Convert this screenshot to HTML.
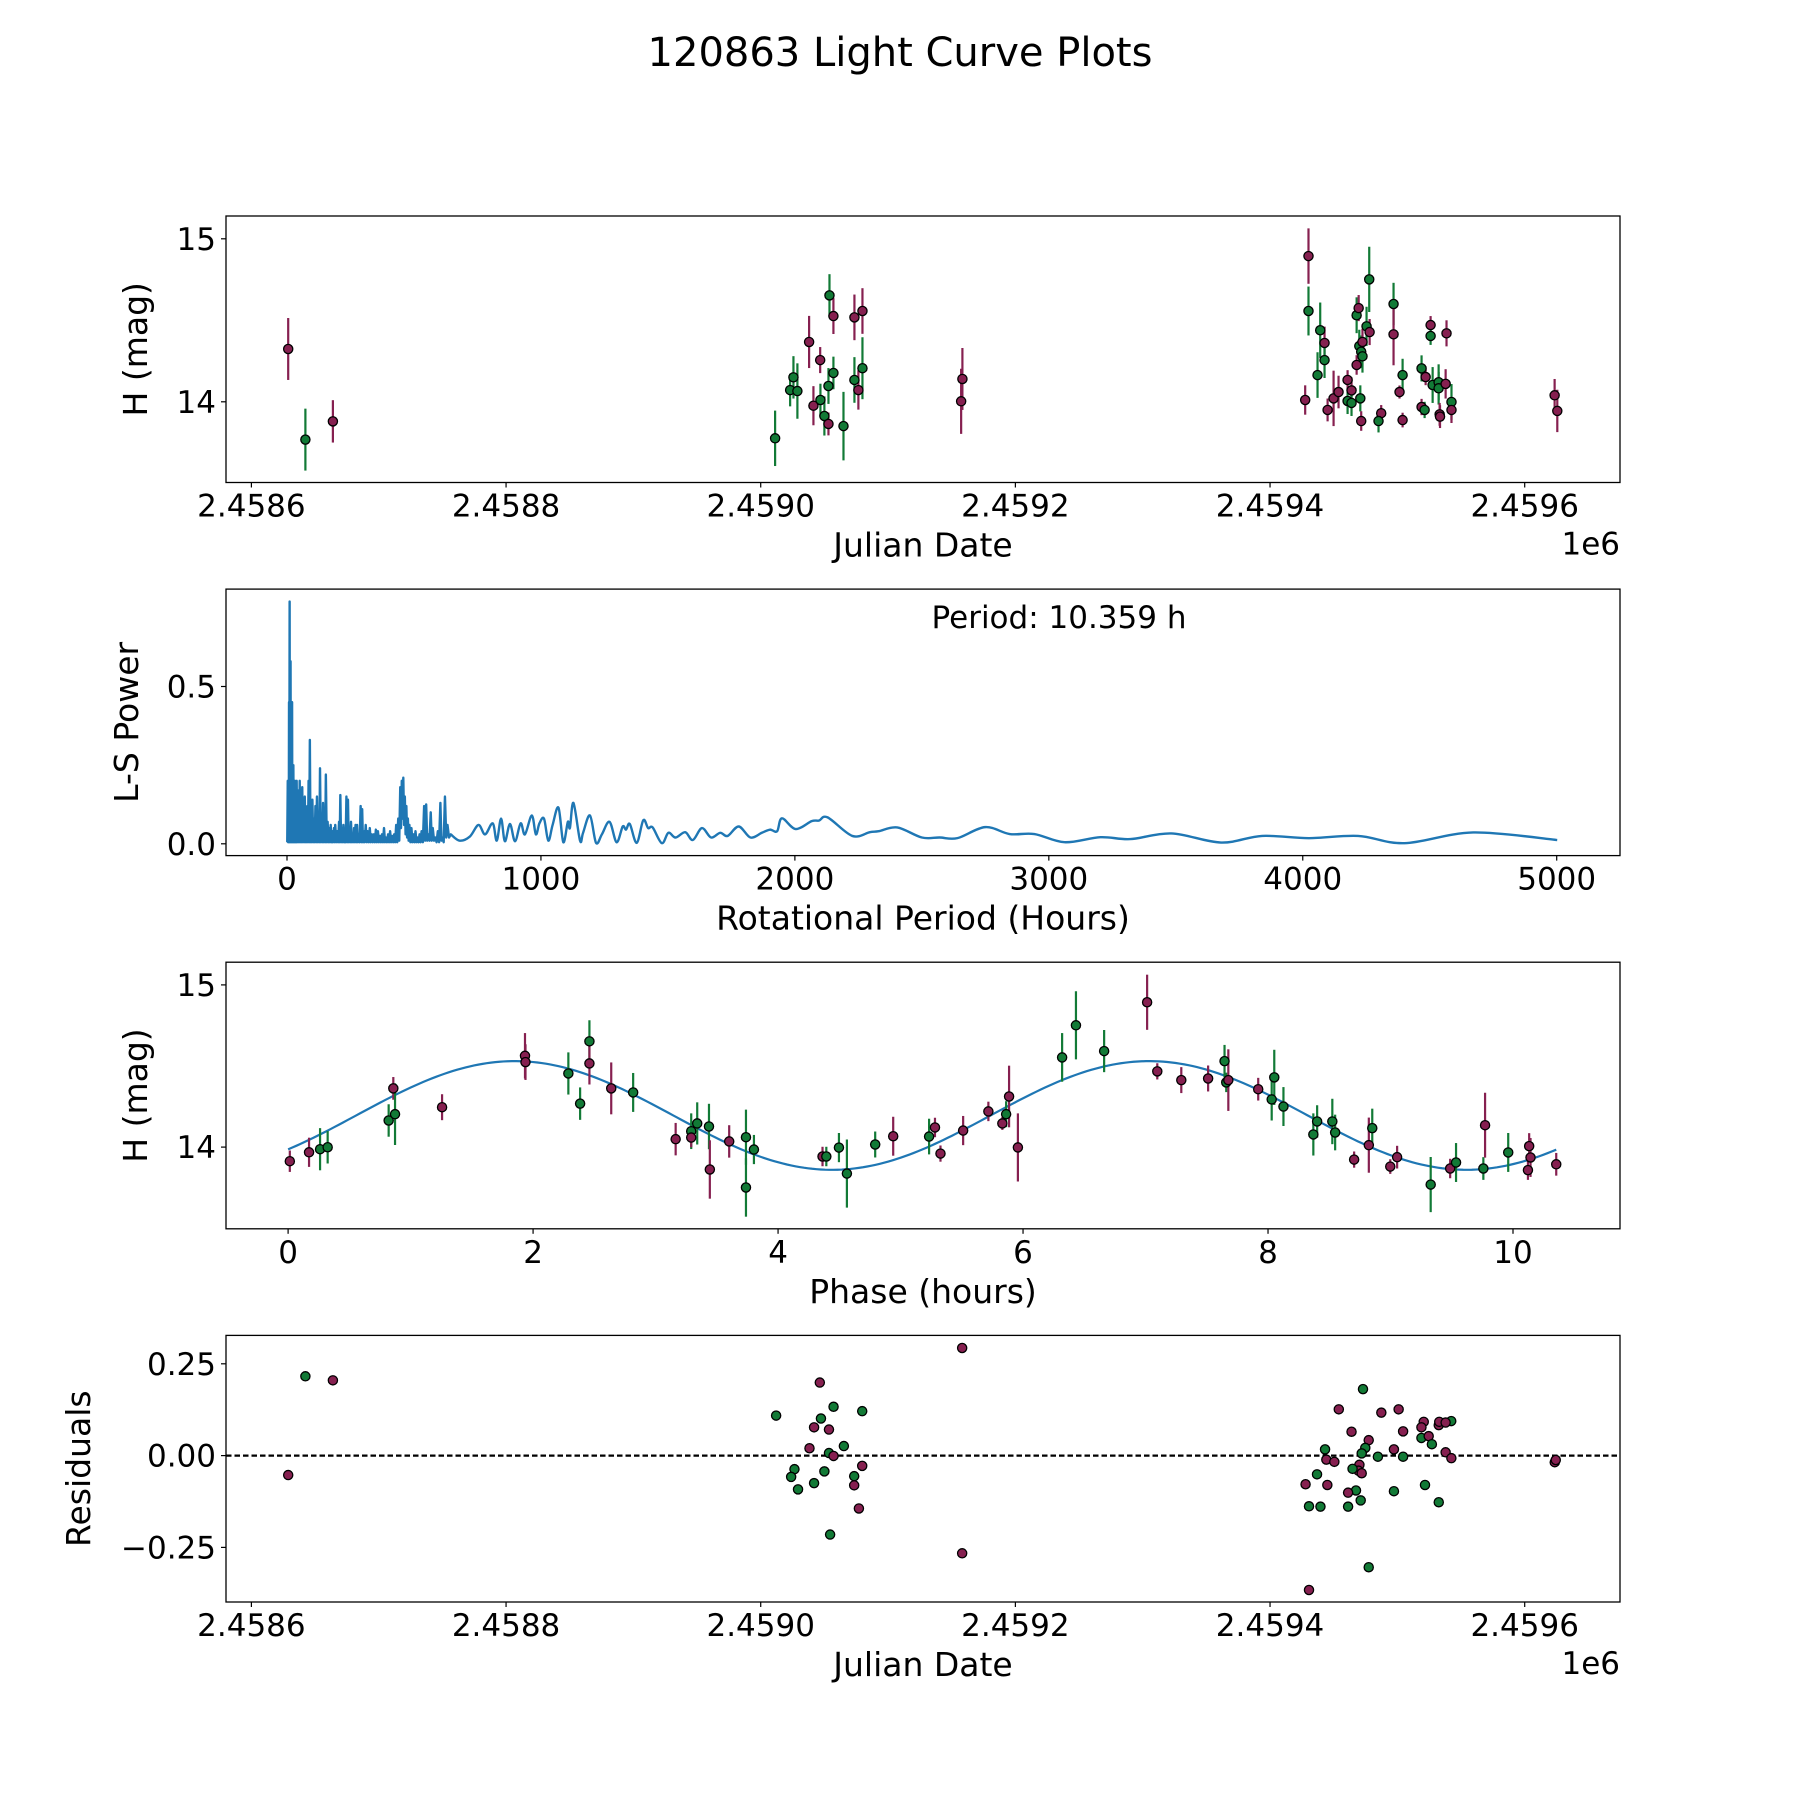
<!DOCTYPE html>
<html>
<head>
<meta charset="utf-8">
<style>
html,body{margin:0;padding:0;background:#fff;}
svg{display:block;}
text{font-family:"DejaVu Sans","Liberation Sans",sans-serif;fill:#000;}
</style>
</head>
<body>
<svg id="fig" width="1800" height="1800" viewBox="0 0 1800 1800" xmlns="http://www.w3.org/2000/svg">
<rect x="0" y="0" width="1800" height="1800" fill="#fff"/>
<text x="900" y="66" font-size="40" text-anchor="middle">120863 Light Curve Plots</text>
<g id="p1"></g>
<g id="p2"></g>
<g id="p3"></g>
<g id="p4"></g>
</svg>
<script>
// ---------- Panel 1: light curve ----------
const lcJD = [2458628.9,2458642.4,2458664.0,2459011.3,2459023.1,2459025.7,2459028.8,2459038.0,2459041.4,2459046.7,2459046.9,2459050.0,2459053.2,2459053.2,2459054.0,2459057.1,2459057.1,2459065.0,2459073.6,2459073.6,2459076.7,2459079.9,2459079.9,2459157.4,2459158.4,
2459430.2,2459430.2,2459427.6,2459437.3,2459439.4,2459442.8,2459442.8,2459445.2,2459449.9,2459453.8,2459460.9,2459460.9,2459464.0,2459464.0,2459468.0,2459468.0,2459469.6,2459470.9,2459470.1,2459471.6,2459472.6,2459472.6,2459471.6,2459475.8,2459478.2,2459477.9,2459487.3,2459485.2,2459497.0,2459497.0,2459501.7,2459504.1,2459504.1,2459519.0,2459522.2,2459519.0,2459521.4,2459526.1,2459526.1,2459527.7,2459532.4,2459532.4,2459537.9,2459533.2,2459533.5,2459538.6,2459542.5,2459542.5,2459623.5,2459625.6];
const lcMag = [14.324,13.768,13.88,13.776,14.072,14.150,14.066,14.367,13.976,14.256,14.011,13.913,13.864,14.097,14.653,14.526,14.177,13.851,14.518,14.134,14.072,14.557,14.206,14.003,14.140,
14.894,14.557,14.011,14.164,14.439,14.361,14.256,13.950,14.021,14.06,14.134,14.005,14.07,13.993,14.226,14.531,14.575,14.021,14.342,14.307,14.279,14.367,13.882,14.463,14.428,14.751,13.93,13.882,14.6,14.414,14.06,14.164,13.888,14.205,14.152,13.968,13.95,14.471,14.404,14.103,14.12,14.083,14.11,13.923,13.909,14.42,13.999,13.95,14.04,13.944];
const lcErr = [0.19,0.19,0.13,0.17,0.10,0.13,0.17,0.16,0.12,0.08,0.10,0.12,0.07,0.11,0.13,0.11,0.10,0.21,0.14,0.14,0.12,0.14,0.19,0.20,0.19,
0.17,0.15,0.09,0.14,0.17,0.10,0.11,0.07,0.17,0.10,0.06,0.08,0.08,0.08,0.06,0.11,0.08,0.08,0.10,0.10,0.10,0.08,0.06,0.12,0.08,0.20,0.05,0.07,0.13,0.19,0.04,0.10,0.045,0.08,0.05,0.05,0.05,0.055,0.055,0.11,0.11,0.10,0.09,0.07,0.07,0.08,0.11,0.08,0.10,0.13];
const lcBand = ("mgmggggmmmggmggmggmgmmgmm"+"mgmggmgmmm"+"mgmgmgmggg"+"gmmgmgmggm"+"mgmgmmgmgg"+"ggmmmmgmmm").split("");

// ---------- Panel 2: periodogram ----------
const lsPeriods = [1,3,4.5,6,7,8,9.2,10.36,11.2,12,13,14,15,16,17,18,19,20,21,22,23.5,25,26.5,28,29.5,31,33,35,36.5,38,40,42,44,46,48,50,52.5,55,57.5,60,62.5,65,67.5,70,72.5,75,77.5,80,82.5,85,87.5,90,92.5,95,97.5,100,103,106,109,112,115,118,121.5,125,127.5,130,133,136,139,142,145,148,150.5,153,156.5,160,163,166,169,172,175,178,181.5,185,187.5,190,194,198,201.5,205,207.5,210,213,216,219,222,225,228,231,234,237,240,243,246,249,252,255,258,261,264,267,270,273,276,279,282,286,290,293,296,299,302,306,310,314,318,322,326,330,334,338,342,346,350,354,358,362,366,370,374,378,382,386,390,394,398,402,406,410,414,418,422,426,430,434,438,442,446,449,452,455,458,461,464,467,470,473,476,479,482,486,490,494,498,502,506,510,514,518,522,526,530,535,540,544,548,552,556,561,566,570,574,579,584,589,594,599,604,608,612,617,622,627,632,638,645];
const lsPowers = [0.005,0.2,0.005,0.1,0.005,0.45,0.005,0.77,0.005,0.3,0.005,0.58,0.005,0.2,0.005,0.35,0.005,0.45,0.005,0.15,0.005,0.25,0.005,0.1,0.005,0.2,0.005,0.12,0.005,0.2,0.005,0.17,0.005,0.08,0.005,0.2,0.005,0.12,0.005,0.18,0.005,0.09,0.005,0.15,0.005,0.07,0.005,0.12,0.005,0.2,0.005,0.33,0.005,0.1,0.005,0.14,0.005,0.08,0.005,0.12,0.005,0.15,0.005,0.1,0.005,0.24,0.005,0.08,0.005,0.13,0.005,0.06,0.005,0.22,0.005,0.07,0.005,0.05,0.005,0.06,0.005,0.04,0.005,0.05,0.005,0.06,0.005,0.04,0.005,0.07,0.005,0.155,0.005,0.05,0.005,0.06,0.005,0.04,0.005,0.15,0.005,0.14,0.005,0.05,0.005,0.07,0.005,0.03,0.005,0.05,0.005,0.06,0.005,0.06,0.005,0.03,0.005,0.12,0.005,0.11,0.005,0.04,0.005,0.06,0.005,0.04,0.005,0.05,0.005,0.03,0.005,0.03,0.005,0.045,0.005,0.04,0.005,0.025,0.005,0.03,0.005,0.05,0.005,0.02,0.005,0.03,0.005,0.04,0.005,0.025,0.005,0.03,0.005,0.06,0.005,0.08,0.01,0.18,0.05,0.2,0.08,0.21,0.06,0.15,0.03,0.12,0.02,0.08,0.01,0.06,0.005,0.05,0.005,0.03,0.005,0.04,0.005,0.02,0.005,0.03,0.005,0.04,0.005,0.12,0.01,0.125,0.01,0.03,0.01,0.1,0.01,0.05,0.01,0.02,0.005,0.04,0.005,0.13,0.01,0.02,0.005,0.15,0.02,0.06,0.02,0.03];
const lsSmoothPeriods = [680,720,754,780,810,826,843,858,878,898,920,937,964,980,994,1012,1029,1046,1069,1088,1106,1114,1128,1154,1166,1193,1217,1240,1270,1298,1322,1335,1350,1377,1403,1422,1440,1476,1502,1530,1568,1598,1634,1670,1706,1735,1779,1825,1870,1902,1930,1949,2003,2066,2095,2129,2226,2295,2330,2403,2500,2570,2640,2749,2846,2943,3062,3203,3321,3483,3678,3840,4024,4218,4401,4671,5002];
const lsSmoothPowers = [0.01,0.023,0.06,0.03,0.065,0.01,0.08,0.008,0.063,0.008,0.065,0.03,0.09,0.03,0.065,0.08,0.01,0.06,0.115,0.005,0.07,0.05,0.13,0.01,0.035,0.09,0.003,0.03,0.07,0.005,0.055,0.045,0.063,0.003,0.075,0.05,0.052,0.002,0.035,0.02,0.037,0.012,0.05,0.02,0.035,0.025,0.055,0.02,0.035,0.045,0.04,0.081,0.047,0.072,0.074,0.084,0.025,0.037,0.04,0.052,0.02,0.02,0.018,0.053,0.031,0.031,0.005,0.021,0.015,0.033,0.004,0.025,0.018,0.025,0.002,0.036,0.012];
const bestPeriodLabel = ["Period: 10.359 h"];

// ---------- Panel 3: phased curve ----------
const phPhase = [0.014,0.171,0.261,0.323,0.859,0.821,0.873,1.257,1.934,1.938,2.288,2.384,2.46,2.46,2.638,2.817,3.164,3.291,3.291,3.34,3.436,3.443,3.601,3.738,3.738,3.803,4.363,4.394,4.497,4.562,4.793,4.94,5.233,
5.281,5.326,5.511,5.717,5.831,5.862,5.886,5.958,6.319,6.432,6.662,7.013,7.096,7.292,7.511,7.645,7.659,7.676,7.92,8.03,8.051,8.126,8.37,8.401,8.525,8.548,8.703,8.823,8.851,8.998,9.054,9.328,9.487,9.535,9.758,9.772,9.961,10.132,10.143,10.122,10.353];
const phMag = [13.913,13.968,13.987,13.999,14.362,14.164,14.203,14.246,14.563,14.524,14.454,14.268,14.652,14.516,14.362,14.337,14.049,14.098,14.059,14.146,14.127,13.862,14.035,14.061,13.751,13.985,13.942,13.942,13.997,13.837,14.016,14.067,14.065,
14.121,13.96,14.102,14.22,14.146,14.203,14.312,13.998,14.553,14.751,14.592,14.893,14.467,14.413,14.423,14.53,14.399,14.413,14.357,14.294,14.43,14.25,14.078,14.158,14.158,14.09,13.923,14.012,14.117,13.88,13.938,13.769,13.868,13.905,13.868,14.135,13.967,14.006,13.936,13.858,13.894];
const phErr = [0.066,0.09,0.13,0.10,0.07,0.10,0.19,0.08,0.14,0.11,0.13,0.10,0.13,0.13,0.16,0.12,0.10,0.11,0.06,0.13,0.14,0.18,0.10,0.17,0.18,0.09,0.06,0.06,0.09,0.21,0.08,0.12,0.11,
0.06,0.05,0.09,0.06,0.04,0.08,0.19,0.21,0.15,0.21,0.13,0.17,0.05,0.08,0.08,0.10,0.06,0.19,0.07,0.13,0.17,0.12,0.13,0.10,0.14,0.11,0.05,0.17,0.12,0.045,0.07,0.17,0.06,0.12,0.07,0.20,0.12,0.08,0.12,0.06,0.07];
const phBand = ("mmggmggmmm"+"gggmmgmgmg"+"gmmgggmggg"+"gmg"+"mmmmmgmmgg"+"gmmmmggmmg"+"ggggggmmgm"+"mgmggmgmmm"+"m").split("");
// sinusoid fit: [mean, amplitude, phase of maximum, half period]
const fitParams = [14.195, 0.335, 1.85, 5.1795];

// ---------- Panel 4: residuals ----------
const resJD = [2458628.9,2458642.4,2458664.0,2459012.1,2459046.4,2459057.2,2459047.3,2459041.9,2459053.6,2459079.7,2459038.3,2459065.3,2459053.6,2459057.2,2459079.7,2459026.5,2459023.9,2459050.0,2459073.4,2459041.9,2459073.4,2459029.3,2459077.1,2459054.5,2459158.2,2459158.2,
2459473.0,2459454.0,2459487.4,2459501.0,2459520.7,2459532.5,2459532.9,2459542.3,2459537.9,2459518.9,2459504.5,2459464.0,2459518.9,2459524.6,2459527.1,2459477.5,2459474.8,2459497.3,2459443.2,2459537.9,2459484.7,2459504.5,2459542.4,2459472.0,2459444.2,2459450.5,2459470.2,2459469.4,2459472.0,2459464.8,2459436.9,2459427.9,2459445.0,2459521.7,2459467.5,2459497.3,2459461.3,2459471.2,2459532.5,2459430.6,2459439.6,2459461.3,2459477.5,2459430.6,2459623.6,2459624.4];
const resVal = [-0.053,0.216,0.205,0.109,0.199,0.133,0.101,0.077,0.071,0.121,0.02,0.026,0.007,-0.001,-0.028,-0.037,-0.058,-0.043,-0.056,-0.075,-0.081,-0.092,-0.144,-0.215,0.293,-0.266,
0.181,0.126,0.117,0.126,0.092,0.083,0.092,0.094,0.09,0.077,0.066,0.065,0.048,0.053,0.031,0.042,0.021,0.017,0.017,0.009,-0.003,-0.003,-0.007,0.006,-0.011,-0.017,-0.025,-0.041,-0.048,-0.036,-0.051,-0.078,-0.08,-0.08,-0.095,-0.097,-0.101,-0.122,-0.127,-0.138,-0.139,-0.139,-0.304,-0.366,-0.018,-0.012];
const resBand = ("mgmgmggmmg"+"mggmmggggg"+"mgmgmm"+"gmmmmmmgmm"+"mmgmgmgmgm"+"ggmgmmmmmg"+"gmmgggmggg"+"gggmmm").split("");

const jdTicks = [2458600,2458800,2459000,2459200,2459400,2459600];
const jdTickLabels = ["2.4586","2.4588","2.4590","2.4592","2.4594","2.4596"];
const magTicks = [14,15];
const magTickLabels = ["14","15"];
const perTicks = [0,1000,2000,3000,4000,5000];
const perTickLabels = ["0","1000","2000","3000","4000","5000"];
const powTicks = [0,0.5];
const powTickLabels = ["0.0","0.5"];
const phTicks = [0,2,4,6,8,10];
const phTickLabels = ["0","2","4","6","8","10"];
const resTicks = [0.25,0,-0.25];
const resTickLabels = ["0.25","0.00","\u22120.25"];

const NS = "http://www.w3.org/2000/svg";
const COL = {m:"#862050", g:"#127a36"};
const L = 226, R = 1620;
function lin(d0,d1,r0,r1){ return v => r0 + (v-d0)*(r1-r0)/(d1-d0); }
function mk(parent, tag, attrs){
  const e = document.createElementNS(NS, tag);
  for (const k in attrs) e.setAttribute(k, attrs[k]);
  parent.appendChild(e);
  return e;
}

function frame(g, top, bot, xs, xt, xl, ys, yt, yl, xlabel, ylabel, ylabelX, offsetText){
  const ax = mk(g,"g",{});
  
  
  xt.forEach((t,i)=>{
    const x = xs(t);
    mk(ax,"line",{x1:x,x2:x,y1:bot,y2:bot+5,stroke:"#000","stroke-width":1.2});
    const tx = mk(ax,"text",{x:x,y:bot+34,"font-size":31,"text-anchor":"middle"});
    tx.textContent = xl[i];
    
    
  });
  yt.forEach((t,i)=>{
    const y = ys(t);
    mk(ax,"line",{x1:L-5,x2:L,y1:y,y2:y,stroke:"#000","stroke-width":1.2});
    const ty = mk(ax,"text",{x:L-10,y:y+11,"font-size":31,"text-anchor":"end"});
    ty.textContent = yl[i];
    
    
  });
  const xlab = mk(ax,"text",{x:(L+R)/2,y:bot+74,"font-size":33,"text-anchor":"middle"});
  xlab.textContent = xlabel;
  
  
  const cy = (top+bot)/2;
  const ylab = mk(ax,"text",{x:ylabelX,y:cy,"font-size":33,"text-anchor":"middle",transform:`rotate(-90 ${ylabelX} ${cy})`});
  ylab.textContent = ylabel;
  
  
  if (offsetText){
    const o = mk(ax,"text",{x:R,y:bot+72,"font-size":31,"text-anchor":"end"});
    o.textContent = offsetText;
    
    
  }
}
function border(g, top, bot){
  const b = mk(g,"rect",{x:L,y:top,width:R-L,height:bot-top,fill:"none",stroke:"#000","stroke-width":1.3});
  
  
}
function errPoints(g, xs, ys, X, Y, E, B){
  const bars = mk(g,"g",{});
  const dots = mk(g,"g",{});
  X.forEach((xv,i)=>{
    const x = xs(xv), y = ys(Y[i]);
    const col = COL[B[i]] || COL.m;
    if (E){
      const ln = mk(bars,"line",{x1:x,x2:x,y1:ys(Y[i]-E[i]),y2:ys(Y[i]+E[i]),stroke:col,"stroke-width":2.2});
      
      
    }
    const c = mk(dots,"circle",{cx:x,cy:y,r:4.6,fill:col,stroke:"#000","stroke-width":1.3});
    
    
  });
}

// Panel 1
(function(){
  const g = document.getElementById("p1");
  const top=216, bot=482.5;
  const xs = lin(2458600,2459600,251.4,1524.7);
  const ys = lin(15,14,238.8,401.8);
  frame(g,top,bot,xs,jdTicks,jdTickLabels,ys,magTicks,magTickLabels,"Julian Date","H (mag)",147,"1e6");
  errPoints(g,xs,ys,lcJD,lcMag,lcErr,lcBand);
  border(g,top,bot);
})();

// Panel 2
(function(){
  const g = document.getElementById("p2");
  const top=589.1, bot=855.6;
  const xs = lin(0,5000,287,1556.7);
  const ys = lin(0,0.5,843.8,686.5);
  frame(g,top,bot,xs,perTicks,perTickLabels,ys,powTicks,powTickLabels,"Rotational Period (Hours)","L-S Power",138,null);
  let d = "";
  lsPeriods.forEach((p,i)=>{ d += (i?"L":"M") + xs(p).toFixed(2) + "," + ys(lsPowers[i]).toFixed(2); });
  const P = lsSmoothPeriods.map(xs), Q = lsSmoothPowers.map(ys);
  const px = [xs(lsPeriods[lsPeriods.length-1])].concat(P), py = [ys(lsPowers[lsPowers.length-1])].concat(Q);
  for (let i=0;i<px.length-1;i++){
    const x0=px[Math.max(i-1,0)], y0=py[Math.max(i-1,0)], x1=px[i], y1=py[i], x2=px[i+1], y2=py[i+1], x3=px[Math.min(i+2,px.length-1)], y3=py[Math.min(i+2,px.length-1)];
    const c1x=x1+(x2-x0)/6, c1y=y1+(y2-y0)/6, c2x=x2-(x3-x1)/6, c2y=y2-(y3-y1)/6;
    d += `C${c1x.toFixed(2)},${c1y.toFixed(2)} ${c2x.toFixed(2)},${c2y.toFixed(2)} ${x2.toFixed(2)},${y2.toFixed(2)}`;
  }
  const path = mk(g,"path",{d:d,fill:"none",stroke:"#1f77b4","stroke-width":2.4,"stroke-linejoin":"round"});
  
  
  const t = mk(g,"text",{x:1059,y:628,"font-size":31,"text-anchor":"middle"});
  t.textContent = bestPeriodLabel[0];
  
  
  border(g,top,bot);
})();

// Panel 3
(function(){
  const g = document.getElementById("p3");
  const top=962.2, bot=1228.8;
  const xs = lin(0,10,288.1,1513);
  const ys = lin(15,14,984.9,1147.1);
  frame(g,top,bot,xs,phTicks,phTickLabels,ys,magTicks,magTickLabels,"Phase (hours)","H (mag)",147,null);
  let d = "";
  const maxPh = phPhase.reduce((a,b)=>Math.max(a,b),0);
  const N = 300;
  for (let i=0;i<=N;i++){
    const t = maxPh*i/N;
    const m = fitParams[0] + fitParams[1]*Math.cos(2*Math.PI*(t-fitParams[2])/fitParams[3]);
    d += (i?"L":"M") + xs(t).toFixed(2) + "," + ys(m).toFixed(2);
  }
  const fit = mk(g,"path",{d:d,fill:"none",stroke:"#1f77b4","stroke-width":2.2});
  
  
  errPoints(g,xs,ys,phPhase,phMag,phErr,phBand);
  border(g,top,bot);
})();

// Panel 4
(function(){
  const g = document.getElementById("p4");
  const top=1335.4, bot=1602;
  const xs = lin(2458600,2459600,251.4,1524.7);
  const ys = lin(0,0.25,1455.6,1363.8);
  frame(g,top,bot,xs,jdTicks,jdTickLabels,ys,resTicks,resTickLabels,"Julian Date","Residuals",90,"1e6");
  const zl = mk(g,"line",{x1:L,x2:R,y1:ys(0),y2:ys(0),stroke:"#000","stroke-width":2.2,"stroke-dasharray":"5.5,3"});
  
  
  errPoints(g,xs,ys,resJD,resVal,null,resBand);
  border(g,top,bot);
})();
</script>
</body>
</html>
